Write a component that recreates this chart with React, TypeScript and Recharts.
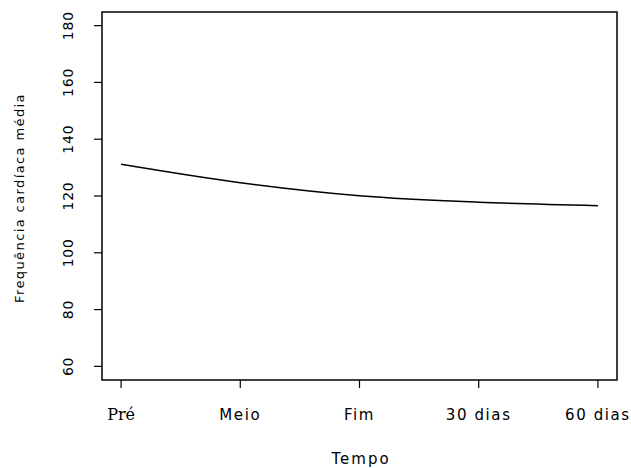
import { LineChart, Line, XAxis, YAxis, ReferenceArea } from 'recharts'

const categories = ['Pré', 'Meio', 'Fim', '30 dias', '60 dias']
const heartRate = [131.2, 124.7, 120.1, 117.8, 116.6]
const yTicks = [60, 80, 100, 120, 140, 160, 180]

const data = categories.map((name, i) => ({ x: i + 1, name, hr: heartRate[i] }))

const X_DOMAIN: [number, number] = [0.84, 5.16]
const Y_DOMAIN: [number, number] = [55.2, 184.8]

const sans = '"DejaVu Sans", sans-serif'

function XTick(props: any) {
  const { x, y, payload } = props
  const label = categories[payload.value - 1]
  const serif = label === 'Pré'
  return (
    <text
      x={x}
      y={y + 30}
      textAnchor="middle"
      fontFamily={serif ? '"DejaVu Serif", serif' : sans}
      fontSize={serif ? 16 : 15}
      letterSpacing={serif ? 0 : 1.6}
      fill="#000"
    >
      {label}
    </text>
  )
}

function YTick(props: any) {
  const { y, payload } = props
  return (
    <text
      x={68}
      y={y}
      transform={`rotate(-90 68 ${y})`}
      textAnchor="middle"
      dominantBaseline="central"
      fontFamily={sans}
      fontSize={14}
      letterSpacing={0.8}
      fill="#000"
    >
      {payload.value}
    </text>
  )
}

export default function App() {
  return (
    <div style={{ position: 'absolute', left: 0, top: 0, background: '#fff' }}>
      <LineChart width={631} height={468} data={data} margin={{ top: 12, right: 14, bottom: 0, left: 0 }}>
        <XAxis
          dataKey="x"
          type="number"
          domain={X_DOMAIN}
          ticks={[1, 2, 3, 4, 5]}
          height={88}
          axisLine={false}
          tickSize={8}
          tickLine={{ stroke: '#000', strokeWidth: 1.2 }}
          tick={<XTick />}
          allowDataOverflow
          label={{
            content: () => (
              <text x={361} y={464} textAnchor="middle" fontFamily={sans} fontSize={15} letterSpacing={2} fill="#000">
                Tempo
              </text>
            ),
          }}
        />
        <YAxis
          type="number"
          domain={Y_DOMAIN}
          ticks={yTicks}
          width={102}
          axisLine={false}
          tickSize={8}
          tickLine={{ stroke: '#000', strokeWidth: 1.2 }}
          tick={<YTick />}
          allowDataOverflow
          label={{
            content: () => (
              <text
                x={19}
                y={198}
                transform="rotate(-90 19 198)"
                textAnchor="middle"
                dominantBaseline="central"
                fontFamily={sans}
                fontSize={13}
                letterSpacing={1.4}
                fill="#000"
              >
                Frequência cardíaca média
              </text>
            ),
          }}
        />
        <ReferenceArea
          x1={X_DOMAIN[0]}
          x2={X_DOMAIN[1]}
          y1={Y_DOMAIN[0]}
          y2={Y_DOMAIN[1]}
          fill="none"
          stroke="#000"
          strokeWidth={1.5}
          fillOpacity={0}
          ifOverflow="visible"
        />
        <Line
          type="monotone"
          dataKey="hr"
          stroke="#000"
          strokeWidth={1.5}
          dot={false}
          isAnimationActive={false}
        />
      </LineChart>
    </div>
  )
}
